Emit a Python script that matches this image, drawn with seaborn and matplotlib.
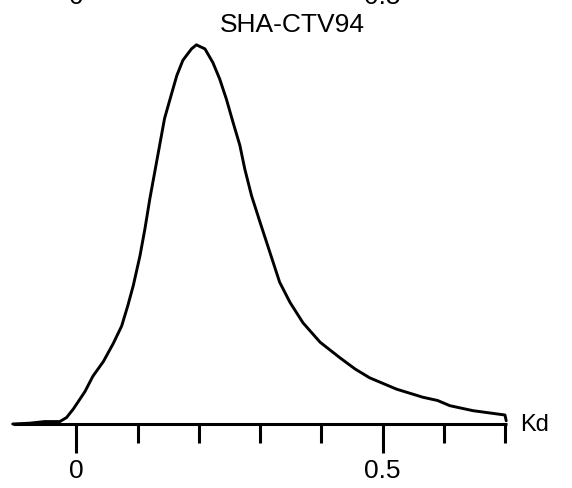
import matplotlib
matplotlib.use("Agg")
import matplotlib.pyplot as plt
import matplotlib.transforms as mtransforms
from matplotlib.ticker import FixedLocator, NullFormatter
import seaborn as sns
import pandas as pd

# ---- data ----
kd = [-0.104, -0.076, -0.052, -0.027, -0.016, -0.005, 0.014, 0.027, 0.044, 0.060,
      0.074, 0.084, 0.093, 0.104, 0.112, 0.120, 0.128, 0.136, 0.144, 0.153,
      0.164, 0.174, 0.188, 0.196, 0.210, 0.223, 0.234, 0.245, 0.256, 0.267,
      0.275, 0.286, 0.300, 0.316, 0.332, 0.349, 0.370, 0.398, 0.430, 0.455,
      0.479, 0.523, 0.566, 0.590, 0.610, 0.648, 0.700, 0.702]
density = [0.0, 0.01, 0.03, 0.03, 0.08, 0.185, 0.40, 0.59, 0.77, 0.99,
           1.21, 1.46, 1.71, 2.08, 2.41, 2.78, 3.11, 3.44, 3.77, 4.01,
           4.30, 4.49, 4.63, 4.68, 4.63, 4.46, 4.26, 4.01, 3.72, 3.44,
           3.15, 2.82, 2.49, 2.12, 1.75, 1.50, 1.25, 1.01, 0.82, 0.68,
           0.57, 0.43, 0.33, 0.29, 0.226, 0.164, 0.111, 0.04]
major_ticks = [0.0, 0.5]
major_labels = ["0", "0.5"]
minor_ticks = [0.1, 0.2, 0.3, 0.4, 0.6, 0.7]
title = "SHA-CTV94"
axis_label = "Kd"

sns.set_style("white")
plt.rcParams["font.family"] = ["Liberation Sans", "DejaVu Sans"]
plt.rcParams["text.color"] = "black"
plt.rcParams["xtick.color"] = "black"
plt.rcParams["xtick.labelcolor"] = "black"

W, H = 572, 489
fig = plt.figure(figsize=(W / 100, H / 100), dpi=100)
left_px, right_px = 13.3, 506.5
base_px, top_px = 425.0, 28.0
ax = fig.add_axes([left_px / W, 1 - base_px / H,
                   (right_px - left_px) / W, (base_px - top_px) / H])

df = pd.DataFrame({"Kd": kd, "density": density})
sns.lineplot(data=df, x="Kd", y="density", color="black", linewidth=2.1,
             ax=ax, sort=False, clip_on=False,
             solid_joinstyle="round", solid_capstyle="round")

ax.set_xlim(-0.103, 0.7025)
ax.set_ylim(0, 4.9)
ax.set_xlabel("")
ax.set_ylabel("")
ax.set_yticks([])
for s in ["left", "top", "right"]:
    ax.spines[s].set_visible(False)
ax.spines["bottom"].set_linewidth(2.2)
ax.spines["bottom"].set_color("black")
ax.spines["bottom"].set_capstyle("butt")

ax.xaxis.set_major_locator(FixedLocator(major_ticks))
ax.set_xticklabels(major_labels)
ax.xaxis.set_minor_locator(FixedLocator(minor_ticks))
ax.xaxis.set_minor_formatter(NullFormatter())
ax.tick_params(axis="x", which="major", direction="out", length=21, width=2.2,
               color="black", labelcolor="black", labelsize=19, pad=3.5,
               bottom=True)
ax.tick_params(axis="x", which="minor", direction="out", length=14, width=2.2,
               color="black", bottom=True)

trans = mtransforms.blended_transform_factory(ax.transData, ax.transData)
ax.text(0.7245, 0.0, axis_label, transform=trans, fontsize=17,
        ha="left", va="center", color="black", clip_on=False)

fig.text(292 / W, 1 - 25 / H, title, ha="center", va="center", fontsize=19,
         color="black")

# cut-off tick labels of the panel above
for xv, lab in zip(major_ticks, major_labels):
    xpix = 76.6 + xv * 612
    fig.text(xpix / W, 1 - 4 / H, lab, ha="center", va="baseline",
             fontsize=19, color="black")

fig.savefig("out.png", dpi=100, facecolor="white")
